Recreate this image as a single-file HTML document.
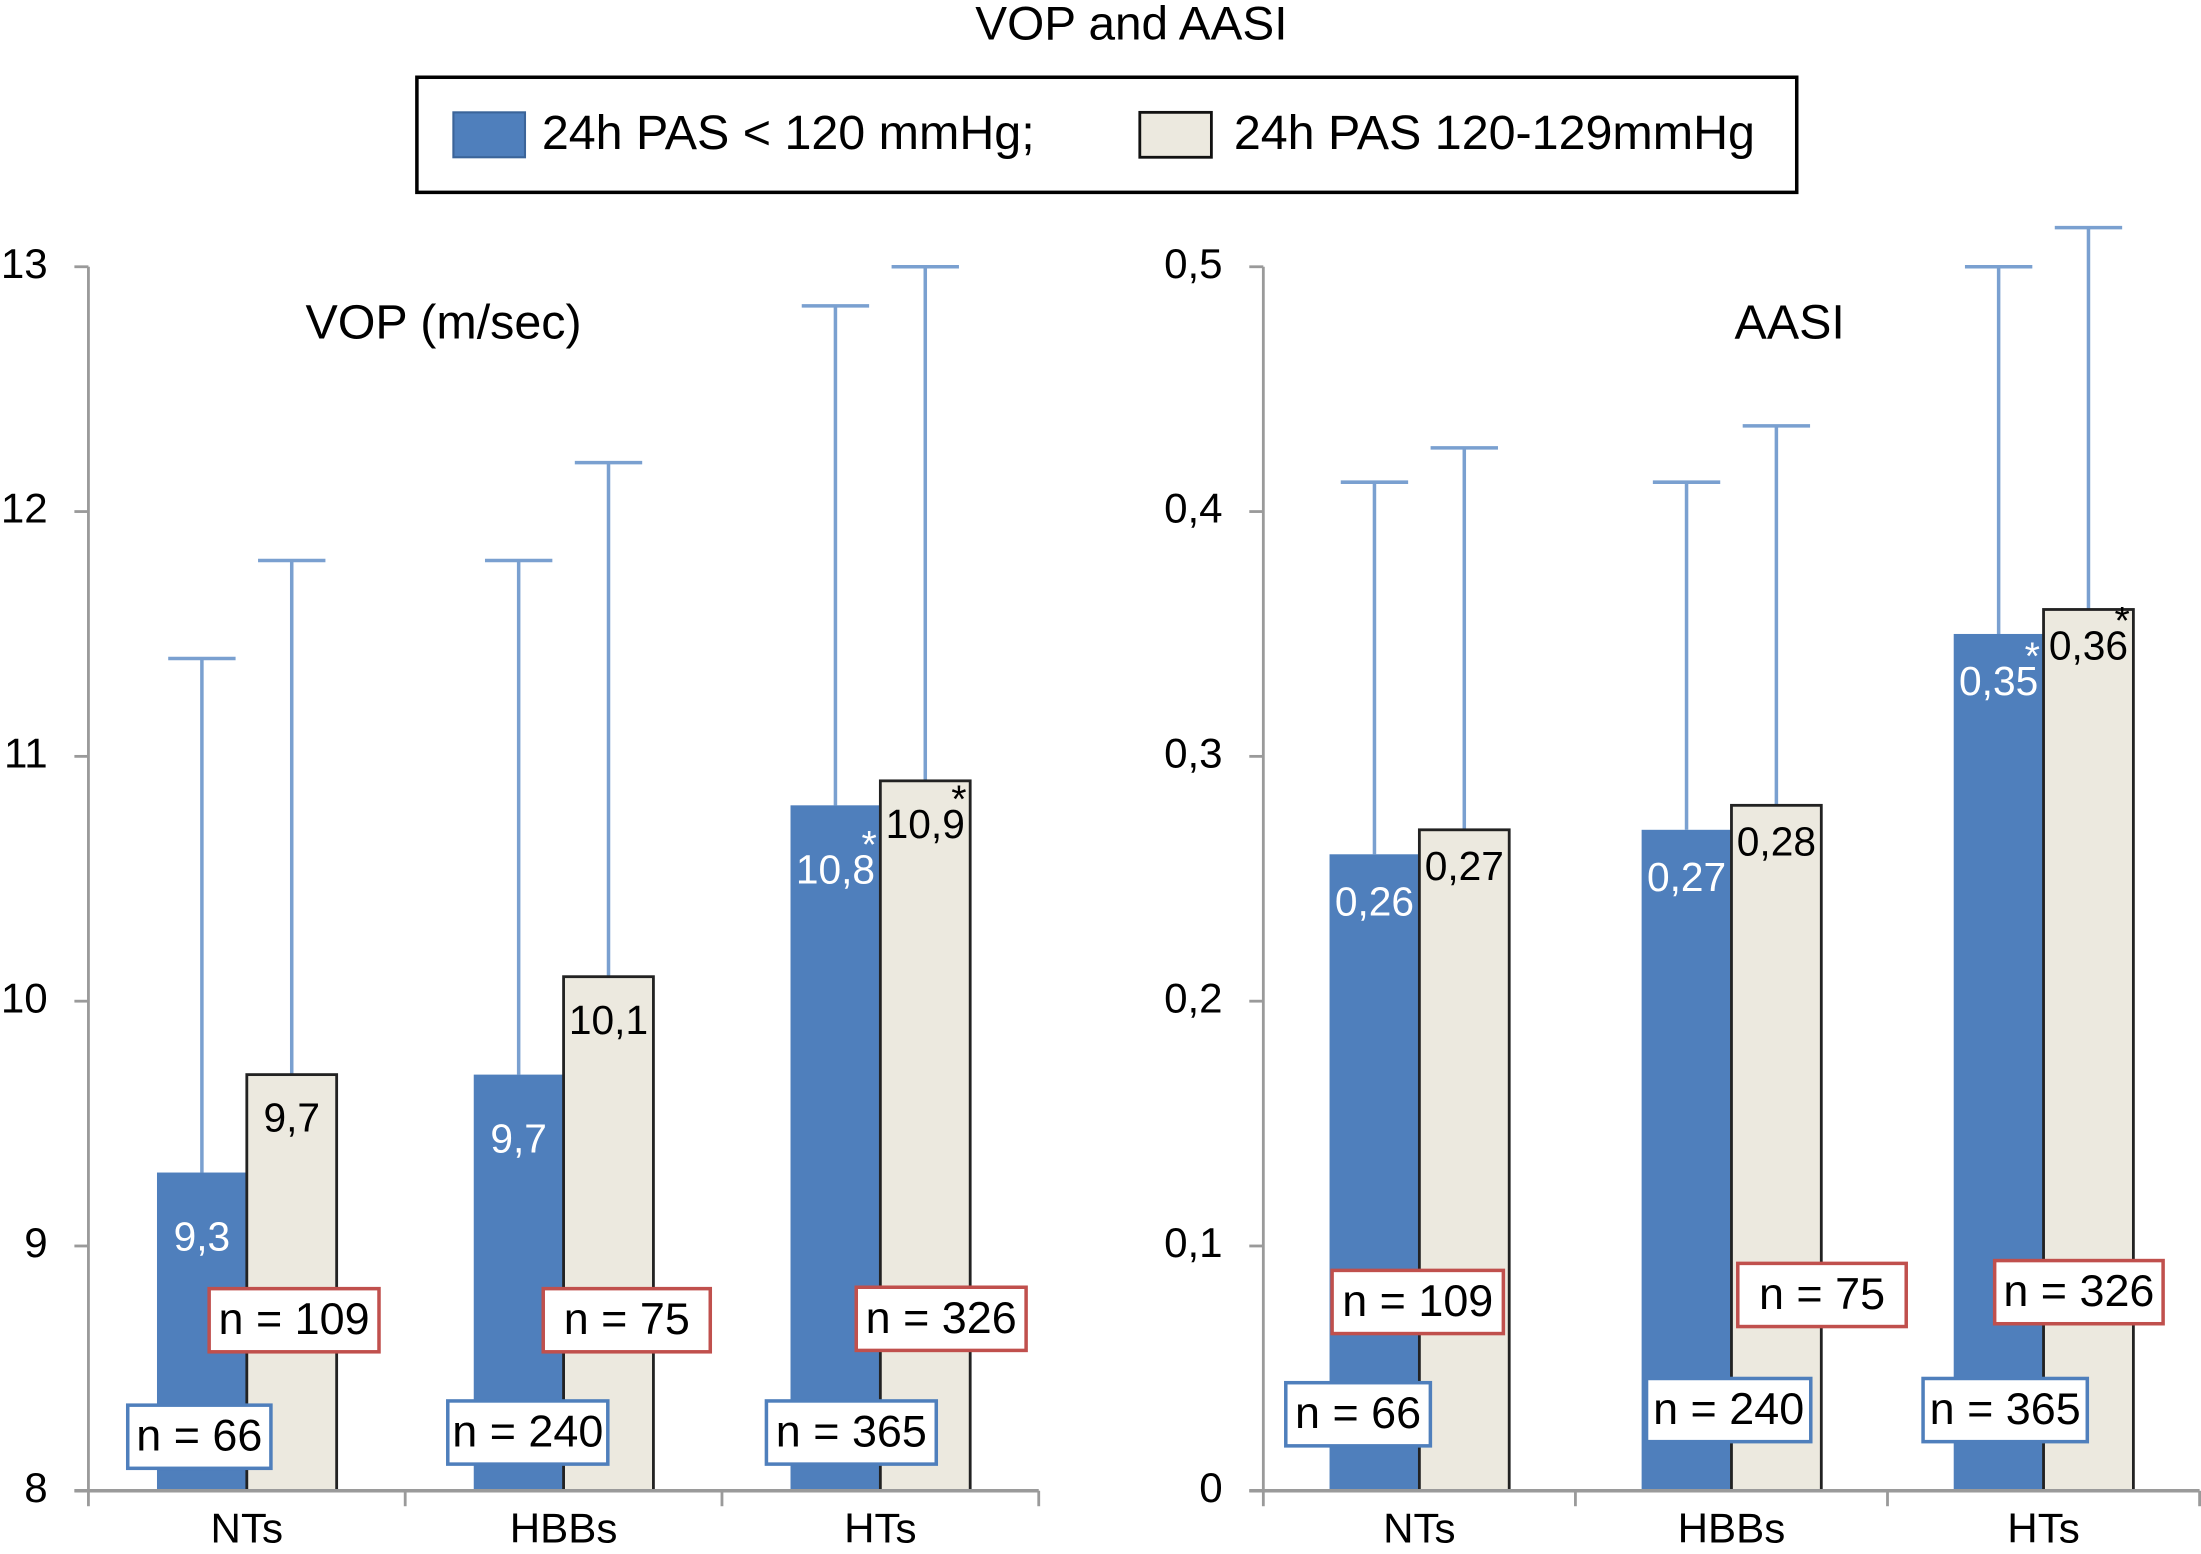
<!DOCTYPE html>
<html><head><meta charset="utf-8"><style>
html,body{margin:0;padding:0;background:#fff;}
svg{display:block;font-family:"Liberation Sans",sans-serif;}
</style></head><body>
<svg id="chart" width="2201" height="1554" viewBox="0 0 1568 1107" xmlns="http://www.w3.org/2000/svg">
<rect width="1568" height="1107" fill="#fff"/>
<text x="806" y="19" font-size="34" text-anchor="middle" dominant-baseline="middle">VOP and AASI</text>
<g>
<rect x="297" y="55" width="983" height="82" fill="#fff" stroke="#000" stroke-width="2.5"/>
<g>
<rect x="323" y="80" width="51" height="32" fill="#4f7fbc" stroke="#3b6499" stroke-width="1.5"/>
<text x="386" y="97" font-size="34.5" dominant-baseline="middle">24h PAS &lt; 120 mmHg;</text></g>
<g>
<rect x="812" y="80" width="51" height="32" fill="#ece9df" stroke="#111" stroke-width="2"/>
<text x="879" y="97" font-size="34.5" dominant-baseline="middle">24h PAS 120-129mmHg</text></g>
</g>
<g id="plots"></g>
</svg>
<script>
const categories = ["NTs","HBBs","HTs"];
const vopBlue = [9.3, 9.7, 10.8];
const vopBeige = [9.7, 10.1, 10.9];
const vopBlueErr = [11.4, 11.8, 12.84];
const vopBeigeErr = [11.8, 12.2, 13.0];
const vopBlueLabels = ["9,3","9,7","10,8"];
const vopBeigeLabels = ["9,7","10,1","10,9"];
const vopTicks = [8,9,10,11,12,13];
const vopTickLabels = ["8","9","10","11","12","13"];
const aasiBlue = [0.26, 0.27, 0.35];
const aasiBeige = [0.27, 0.28, 0.36];
const aasiBlueErr = [0.412, 0.412, 0.50];
const aasiBeigeErr = [0.426, 0.435, 0.516];
const aasiBlueLabels = ["0,26","0,27","0,35"];
const aasiBeigeLabels = ["0,27","0,28","0,36"];
const aasiTicks = [0,0.1,0.2,0.3,0.4,0.5];
const aasiTickLabels = ["0","0,1","0,2","0,3","0,4","0,5"];
const nBlue = ["n = 66","n = 240","n = 365"];
const nBeige = ["n = 109","n = 75","n = 326"];
const starBlue = [false,false,true];
const starBeige = [false,false,true];

const NS="http://www.w3.org/2000/svg";
const root=document.getElementById('plots');
function mk(tag,attrs,parent,txt){const e=document.createElementNS(NS,tag);for(const k in attrs)e.setAttribute(k,attrs[k]);if(txt!==undefined)e.textContent=txt;(parent||root).appendChild(e);return e;}

function drawPanel(cfg){
  const g=mk('g',{});
  
  
  const y=v=>cfg.y0-(v-cfg.min)/(cfg.max-cfg.min)*(cfg.y0-cfg.y1);
  const step=(cfg.x1-cfg.x0)/categories.length;
  const cx=i=>cfg.x0+step*(i+0.5);
  const bw=64;
  const ax=mk('line',{x1:cfg.x0,y1:cfg.y1,x2:cfg.x0,y2:cfg.y0,stroke:'#9a9a9a','stroke-width':2},g);
  
  cfg.ticks.forEach((t,i)=>{
    mk('line',{x1:cfg.x0-10,y1:y(t),x2:cfg.x0,y2:y(t),stroke:'#9a9a9a','stroke-width':2},g);
    const tl=mk('text',{x:cfg.x0-29,y:y(t),'font-size':30,'text-anchor':'end','dominant-baseline':'middle'},g,cfg.tickLabels[i]);
    
  });
  const title=mk('text',{x:cfg.titleX,y:232,'font-size':34.5,'text-anchor':'middle','dominant-baseline':'middle'},g,cfg.title);
  
  categories.forEach((c,i)=>{
    const xc=cx(i);
    const series=[{v:cfg.blue[i],e:cfg.blueErr[i],l:cfg.blueLabels[i],x:xc-bw,fill:'#4f7fbc',stroke:'none',tc:'#fff',off:cfg.blueOff,star:starBlue[i],n:'blue'},
                  {v:cfg.beige[i],e:cfg.beigeErr[i],l:cfg.beigeLabels[i],x:xc,fill:'#ece9df',stroke:'#222',tc:'#000',off:cfg.beigeOff,star:starBeige[i],n:'beige'}];
    series.forEach(s=>{
      const bx=s.x+bw/2;
      const el=mk('line',{x1:bx,y1:y(s.e),x2:bx,y2:y(s.v),stroke:'#7aa0d0','stroke-width':2.5},g);
      
      mk('line',{x1:bx-24,y1:y(s.e),x2:bx+24,y2:y(s.e),stroke:'#7aa0d0','stroke-width':2.5},g);
      const r=mk('rect',{x:s.x,y:y(s.v),width:bw,height:cfg.y0-y(s.v),fill:s.fill,stroke:s.stroke,'stroke-width':s.stroke==='none'?0:2},g);
      
      const t=mk('text',{x:bx,y:y(s.v)+s.off,'font-size':29,'text-anchor':'middle','dominant-baseline':'middle',fill:s.tc},g,s.l);
      
      if(s.star){const st=mk('text',{x:s.x+bw-8,y:y(s.v)+s.off-18,'font-size':28,'text-anchor':'middle','dominant-baseline':'middle',fill:s.tc},g,'*');
        }
    });
    const rb=cfg.redBoxes[i], bb=cfg.blueBoxes[i];
    [[rb,'#c0504d',nBeige[i],'n-beige'],[bb,'#4f7fbc',nBlue[i],'n-blue']].forEach(([b,col,txt,nm])=>{
      const r=mk('rect',{x:b[0],y:b[1],width:b[2],height:45,fill:'#fff',stroke:col,'stroke-width':2.5},g);
      
      const t=mk('text',{x:b[0]+b[2]/2,y:b[1]+24,'font-size':32,'text-anchor':'middle','dominant-baseline':'middle'},g,txt);
      
    });
    const xl=mk('text',{x:xc,y:1091,'font-size':30,'text-anchor':'middle','dominant-baseline':'middle'},g,c);
    
  });
  const xa=mk('line',{x1:cfg.x0-10,y1:cfg.y0,x2:cfg.x1,y2:cfg.y0,stroke:'#9a9a9a','stroke-width':2.5},g);
  
  for(let i=0;i<=categories.length;i++){const xt=cfg.x0+step*i;mk('line',{x1:xt,y1:cfg.y0,x2:xt,y2:cfg.y0+11,stroke:'#9a9a9a','stroke-width':2},g);}
}
drawPanel({name:'vop-panel',title:'VOP (m/sec)',titleX:316,x0:63,x1:740,y0:1062,y1:190,min:8,max:13,
  ticks:vopTicks,tickLabels:vopTickLabels,blue:vopBlue,beige:vopBeige,blueErr:vopBlueErr,beigeErr:vopBeigeErr,
  blueLabels:vopBlueLabels,beigeLabels:vopBeigeLabels,blueOff:48,beigeOff:33,
  redBoxes:[[149,918,121],[387,918,119],[610,917,121]],blueBoxes:[[91,1001,102],[319,998,114],[546,998,121]]});
drawPanel({name:'aasi-panel',title:'AASI',titleX:1275,x0:900,x1:1567,y0:1062,y1:190,min:0,max:0.5,
  ticks:aasiTicks,tickLabels:aasiTickLabels,blue:aasiBlue,beige:aasiBeige,blueErr:aasiBlueErr,beigeErr:aasiBeigeErr,
  blueLabels:aasiBlueLabels,beigeLabels:aasiBeigeLabels,blueOff:36,beigeOff:28,
  redBoxes:[[949,905,122],[1238,900,120],[1421,898,120]],blueBoxes:[[916,985,103],[1173,982,117],[1370,982,117]]});
</script>
</body></html>
